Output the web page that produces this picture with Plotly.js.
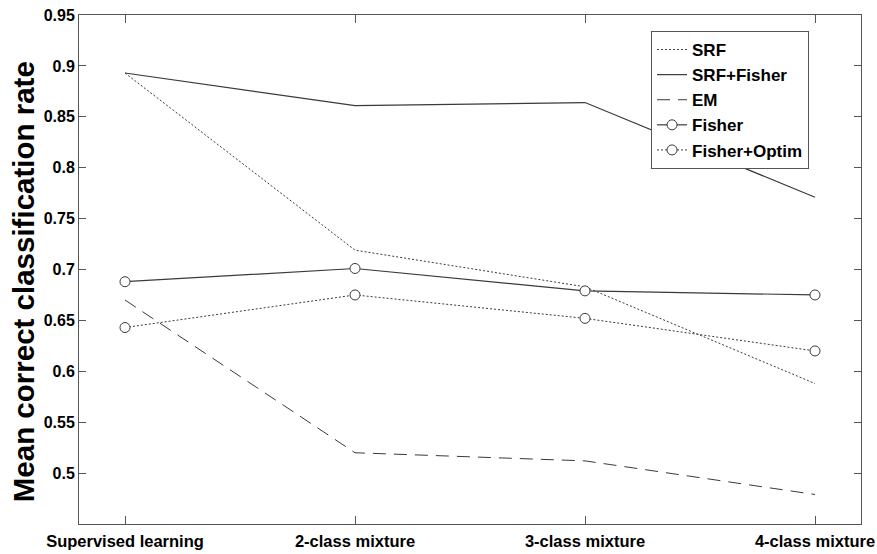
<!DOCTYPE html>
<html>
<head>
<meta charset="utf-8">
<script src="https://cdn.plot.ly/plotly-3.0.1.min.js"></script>
<style>html,body{margin:0;padding:0;background:#fff;}#chart{width:877px;height:554px;}</style>
</head>
<body>
<div id="chart"></div>
<script>
const categories = ["Supervised learning", "2-class mixture", "3-class mixture", "4-class mixture"];
const xPos = [1, 2, 3, 4];
const srf = [0.893, 0.719, 0.683, 0.588];
const srfFisher = [0.893, 0.861, 0.864, 0.771];
const em = [0.670, 0.520, 0.512, 0.479];
const fisher = [0.688, 0.701, 0.679, 0.675];
const fisherOptim = [0.643, 0.675, 0.652, 0.620];
const yTickVals = [0.5, 0.55, 0.6, 0.65, 0.7, 0.75, 0.8, 0.85, 0.9, 0.95];
const yTickText = ["0.5", "0.55", "0.6", "0.65", "0.7", "0.75", "0.8", "0.85", "0.9", "0.95"];
const yTitle = "Mean correct classification rate";

const lineCol = "#3a3a3a";
const fnt = "Liberation Sans, Arial, sans-serif";

const traces = [
  {x: xPos, y: srf, name: "SRF", mode: "lines", legendgroup: "a",
   line: {color: lineCol, width: 1, dash: "2px,2px"}},
  {x: xPos, y: srfFisher, name: "SRF+Fisher", mode: "lines", legendgroup: "b",
   line: {color: lineCol, width: 1.2}},
  {x: xPos, y: em, name: "EM", mode: "lines", legendgroup: "c",
   line: {color: lineCol, width: 1, dash: "13px,8px"}},
  {x: xPos, y: fisher, name: "Fisher", mode: "lines+markers", legendgroup: "d",
   line: {color: lineCol, width: 1.2},
   marker: {symbol: "circle", size: 10, color: "#fff", line: {color: lineCol, width: 1}}},
  {x: xPos, y: fisherOptim, name: "Fisher+Optim", mode: "lines+markers", legendgroup: "e",
   line: {color: lineCol, width: 1, dash: "2px,2px"},
   marker: {symbol: "circle", size: 10, color: "#fff", line: {color: lineCol, width: 1}}}
];

const axisCommon = {
  showline: true, linecolor: "#555", linewidth: 1, mirror: "ticks",
  ticks: "inside", tickcolor: "#555", showgrid: false, zeroline: false,
  tickfont: {family: fnt, size: 16, color: "#000", weight: "bold"}
};

const layout = {
  width: 877, height: 554,
  margin: {l: 79, r: 16, t: 15, b: 30},
  paper_bgcolor: "#fff", plot_bgcolor: "#fff",
  showlegend: true,
  xaxis: Object.assign({}, axisCommon, {
    range: [0.8, 4.2], tickvals: xPos, ticktext: categories, ticklen: 8,
    tickfont: {family: fnt, size: 16.5, color: "#000", weight: "bold"},
    ticklabelstandoff: 2
  }),
  yaxis: Object.assign({}, axisCommon, {
    range: [0.45, 0.95], tickvals: yTickVals, ticktext: yTickText, ticklen: 7
  }),
  legend: {
    x: 0.7315, y: 0.9686, xanchor: "left", yanchor: "top",
    bgcolor: "#fff", bordercolor: "#555", borderwidth: 1,
    font: {family: fnt, size: 17, color: "#000", weight: "bold"},
    traceorder: "grouped", tracegroupgap: 0
  },
  annotations: [{
    text: yTitle, xref: "paper", yref: "paper",
    x: -0.0716, y: 0.475, xanchor: "center", yanchor: "middle",
    textangle: -90, showarrow: false,
    font: {family: fnt, size: 29.5, color: "#000", weight: "bold"}
  }]
};

Plotly.newPlot("chart", traces, layout, {staticPlot: true});
</script>
</body>
</html>
